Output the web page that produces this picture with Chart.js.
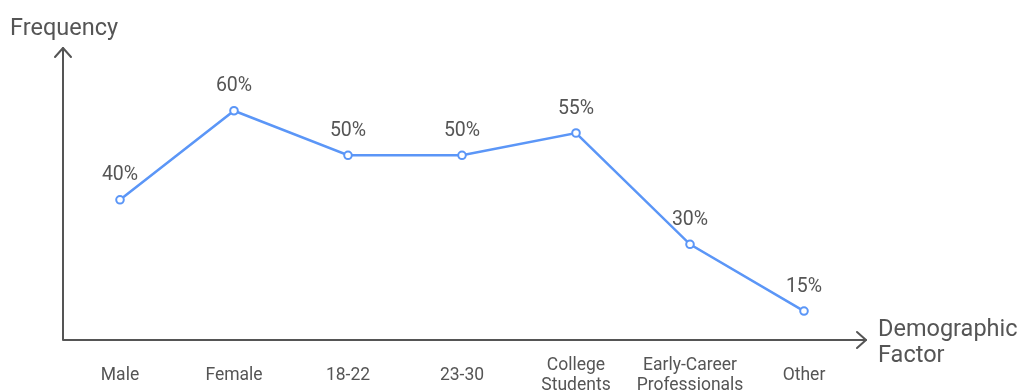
<!DOCTYPE html>
<html>
<head>
<meta charset="utf-8">
<script src="https://cdn.jsdelivr.net/npm/chart.js@4/dist/chart.umd.min.js"></script>
<style>
  html, body { margin: 0; padding: 0; background: #ffffff; }
  #wrap { width: 1020px; height: 392px; position: relative; }
</style>
</head>
<body>
<div id="wrap"><canvas id="chart" width="1020" height="392"></canvas></div>
<script>
// Share of respondents by demographic factor
const categories = ['Male', 'Female', '18-22', '23-30', ['College', 'Students'], ['Early-Career', 'Professionals'], 'Other'];
const frequency = [40, 60, 50, 50, 55, 30, 15];
const valueLabels = ['40%', '60%', '50%', '50%', '55%', '30%', '15%'];

const axisColor = '#555555';
const lineColor = '#5B96F7';
const textColor = '#555555';
const fontFamily = 'Roboto, "Noto Sans", sans-serif';

// Draws the arrowed axes, axis titles and point value labels
const decorations = {
  id: 'decorations',
  afterDatasetsDraw(chart) {
    const { ctx, chartArea } = chart;
    const left = chartArea.left;
    const bottom = chartArea.bottom;
    const top = chartArea.top;
    const right = chartArea.right + 5;

    ctx.save();
    ctx.strokeStyle = axisColor;
    ctx.lineWidth = 2;
    ctx.lineCap = 'round';
    ctx.lineJoin = 'round';
    // axes
    ctx.beginPath();
    ctx.moveTo(left, top);
    ctx.lineTo(left, bottom);
    ctx.lineTo(right, bottom);
    ctx.stroke();
    // arrow heads
    ctx.beginPath();
    ctx.moveTo(left - 8, top + 9);
    ctx.lineTo(left, top);
    ctx.lineTo(left + 8, top + 9);
    ctx.moveTo(right - 9, bottom - 8);
    ctx.lineTo(right, bottom);
    ctx.lineTo(right - 9, bottom + 8);
    ctx.stroke();

    // axis titles
    ctx.fillStyle = textColor;
    ctx.font = '23.5px ' + fontFamily;
    ctx.textBaseline = 'alphabetic';
    ctx.textAlign = 'left';
    ctx.fillText('Frequency', 10, 34.5);
    ctx.fillText('Demographic', 878, 335.5);
    ctx.fillText('Factor', 878, 361.5);

    // value labels above each point
    const meta = chart.getDatasetMeta(0);
    ctx.font = '19.5px ' + fontFamily;
    ctx.textAlign = 'center';
    meta.data.forEach((pt, i) => {
      ctx.fillText(valueLabels[i], pt.x, pt.y - 19.5);
    });
    ctx.restore();
  }
};

new Chart(document.getElementById('chart'), {
  type: 'line',
  data: {
    labels: categories,
    datasets: [{
      data: frequency,
      borderColor: lineColor,
      borderWidth: 2.5,
      pointRadius: 3.8,
      pointBorderWidth: 2,
      pointBackgroundColor: '#ffffff',
      pointBorderColor: lineColor,
      tension: 0,
      clip: false
    }]
  },
  options: {
    responsive: false,
    animation: false,
    events: [],
    layout: { padding: { left: 63, right: 159, top: 48, bottom: 0 } },
    plugins: {
      legend: { display: false },
      tooltip: { enabled: false },
      title: { display: false }
    },
    scales: {
      x: {
        offset: true,
        grid: { display: false, drawTicks: false },
        border: { display: false },
        ticks: {
          color: textColor,
          font: { family: fontFamily, size: 17.5, lineHeight: 1.114 },
          padding: 26,
          maxRotation: 0,
          autoSkip: false,
          crossAlign: 'center'
        },
        afterFit(scale) { scale.height = 52; }
      },
      y: {
        display: false,
        min: 8.5,
        max: 74.1
      }
    }
  },
  plugins: [decorations]
});
</script>
</body>
</html>
